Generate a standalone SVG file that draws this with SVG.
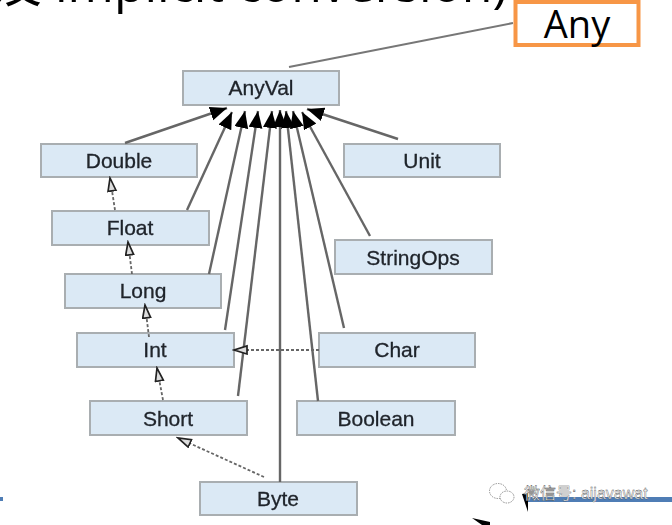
<svg xmlns="http://www.w3.org/2000/svg" width="672" height="525" viewBox="0 0 672 525">
<style>
.n{fill:#dbe9f5;stroke:#a9aeb1;stroke-width:2}
.t{font-family:"Liberation Sans",Arial,sans-serif;font-size:21px;fill:#20252c;stroke:#20252c;stroke-width:.3;text-anchor:middle}
.s{fill:none;stroke:#666;stroke-width:2.4;marker-end:url(#solid)}
.d{fill:none;stroke:#666;stroke-width:1.8;stroke-dasharray:3 2;marker-end:url(#open)}
.w{font-family:"Liberation Sans","Noto Sans CJK SC",sans-serif;font-size:16px;fill:#fff;stroke:#444;stroke-width:.35}
</style>
<defs>
<marker id="solid" markerUnits="userSpaceOnUse" markerWidth="20" markerHeight="16" refX="17" refY="7" orient="auto"><path d="M0 0L17 7L0 14Z" fill="#000"/></marker>
<marker id="open" markerUnits="userSpaceOnUse" markerWidth="16" markerHeight="12" refX="14" refY="5" orient="auto"><path d="M1 1L14 5L1 9Z" fill="#ddd" stroke="#222" stroke-width="1.7"/></marker>
<filter id="b" x="-5%" y="-5%" width="110%" height="110%"><feGaussianBlur stdDeviation=".55"/></filter>
</defs>
<rect width="672" height="525" fill="#fff"/>
<g id="title"><text x="-8" y="2" font-family="'Open Sans','Noto Sans CJK SC',sans-serif" font-size="50" fill="#000">及 implicit conversion)</text></g>
<rect x="528" y="497" width="144" height="5" fill="#4f7db5"/>
<rect x="0" y="497" width="3" height="4" fill="#4f7db5"/>
<path d="M522 494L528 512L528 493Z" fill="#000" filter="url(#b)"/>
<path d="M472 518L490 522L490 525L482 525Z" fill="#000" filter="url(#b)"/>
<g filter="url(#b)">
<g id="anyval"><rect class="n" x="183" y="71" width="156" height="34"/><text class="t" x="261" y="95">AnyVal</text></g>
<g id="double"><rect class="n" x="41" y="144" width="156" height="33"/><text class="t" x="119" y="168">Double</text></g>
<g id="float"><rect class="n" x="52" y="211" width="157" height="34"/><text class="t" x="130" y="235">Float</text></g>
<g id="long"><rect class="n" x="65" y="274" width="156" height="34"/><text class="t" x="143" y="298">Long</text></g>
<g id="int"><rect class="n" x="77" y="333" width="157" height="34"/><text class="t" x="155" y="357">Int</text></g>
<g id="short"><rect class="n" x="90" y="401" width="157" height="34"/><text class="t" x="168" y="426">Short</text></g>
<g id="byte"><rect class="n" x="200" y="482" width="157" height="33"/><text class="t" x="278" y="506">Byte</text></g>
<g id="unit"><rect class="n" x="344" y="144" width="156" height="33"/><text class="t" x="422" y="168">Unit</text></g>
<g id="stringops"><rect class="n" x="335" y="240" width="157" height="34"/><text class="t" x="413" y="265">StringOps</text></g>
<g id="char"><rect class="n" x="319" y="333" width="156" height="34"/><text class="t" x="397" y="357">Char</text></g>
<g id="boolean"><rect class="n" x="297" y="401" width="158" height="34"/><text class="t" x="376" y="426">Boolean</text></g>
<g id="connectors">
<line x1="513" y1="23" x2="289" y2="67" stroke="#777" stroke-width="2"/>
<line class="s" x1="125" y1="143" x2="227" y2="108"/>
<line class="s" x1="187" y1="210" x2="232" y2="112"/>
<line class="s" x1="209" y1="274" x2="245" y2="111"/>
<line class="s" x1="225" y1="330" x2="258" y2="111"/>
<line class="s" x1="238" y1="396" x2="272" y2="111"/>
<line class="s" x1="280" y1="482" x2="280" y2="110"/>
<line class="s" x1="318" y1="401" x2="286" y2="111"/>
<line class="s" x1="344" y1="328" x2="293" y2="111"/>
<line class="s" x1="370" y1="236" x2="302" y2="112"/>
<line class="s" x1="398" y1="139" x2="307" y2="109"/>
<line class="d" x1="115" y1="210" x2="110" y2="178"/>
<line class="d" x1="132" y1="274" x2="128" y2="242"/>
<line class="d" x1="149" y1="337" x2="145" y2="305"/>
<line class="d" x1="163" y1="400" x2="157" y2="368"/>
<line class="d" x1="264" y1="477" x2="178" y2="438"/>
<line class="d" x1="319" y1="350" x2="234" y2="350"/>
</g>
</g>
<g id="any"><rect x="515.5" y="2" width="123" height="43" fill="#fff" stroke="#f79646" stroke-width="4"/><text x="577" y="38" text-anchor="middle" font-family="'Open Sans',sans-serif" font-size="38" fill="#000">Any</text></g>
<g id="watermark">
<ellipse cx="498" cy="491" rx="8.500" ry="7.500" fill="none" stroke="#777" stroke-width=".8" stroke-dasharray="1.500 1"/>
<ellipse cx="507" cy="497" rx="7" ry="6" fill="#fff" stroke="#777" stroke-width=".8" stroke-dasharray="1.500 1"/>
<text class="w" x="524" y="499">微信号: aijavawat</text>
</g>
</svg>
